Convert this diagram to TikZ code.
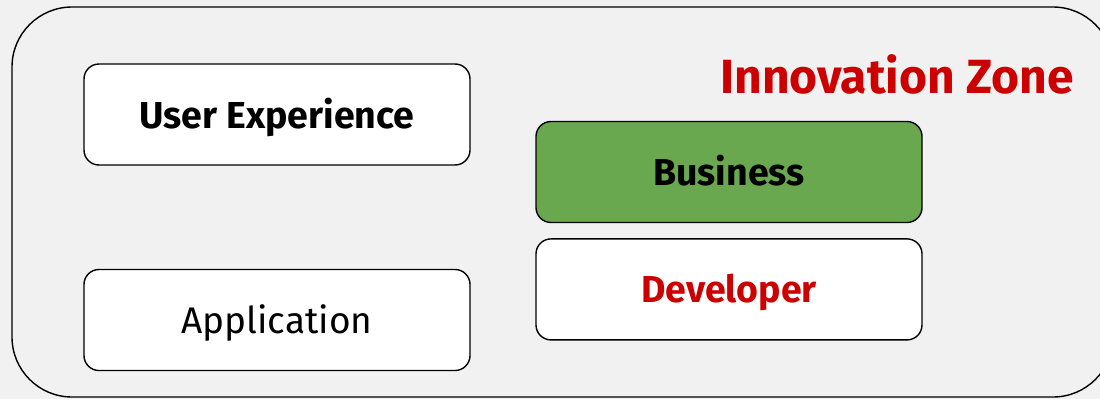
\documentclass[tikz,border=0pt]{standalone}
\usepackage{fontspec}
\setmainfont{Fira Sans}
\usetikzlibrary{positioning}
\definecolor{zonegrey}{HTML}{F1F1F1}
\definecolor{bizgreen}{HTML}{6AA84F}
\definecolor{zonered}{HTML}{CC0000}

\begin{document}
\begin{tikzpicture}
[x=1pt, y=-1pt,
layerbox/.style={rectangle, rounded corners=15pt, draw=black, line width=1.4pt, fill=white, minimum width=386pt, minimum height=101pt, text height=33pt, text depth=6pt, font=\fontsize{37}{42}\selectfont},
boldlayer/.style={layerbox, font=\bfseries\fontsize{37.5}{42}\selectfont},
]
\useasboundingbox[fill=zonegrey] (0,0) rectangle (1100,399);
\clip (0,0) rectangle (1100,399);
% outer zone
\draw[line width=1.4pt, rounded corners=60pt] (12,7) rectangle (1113,397);
\node[text=zonered, font=\bfseries\fontsize{48}{54}\selectfont] (zone) at (897,74) {Innovation Zone};
% layers
\node[boldlayer] (ux) at (277,114.5) {User Experience};
\node[layerbox] (app) at (277,320) {Application};
\node[boldlayer, fill=bizgreen] (biz) at (729,172) {Business};
\node[boldlayer, text=zonered] (dev) [below=15pt of biz] {Developer};
\end{tikzpicture}
\end{document}
